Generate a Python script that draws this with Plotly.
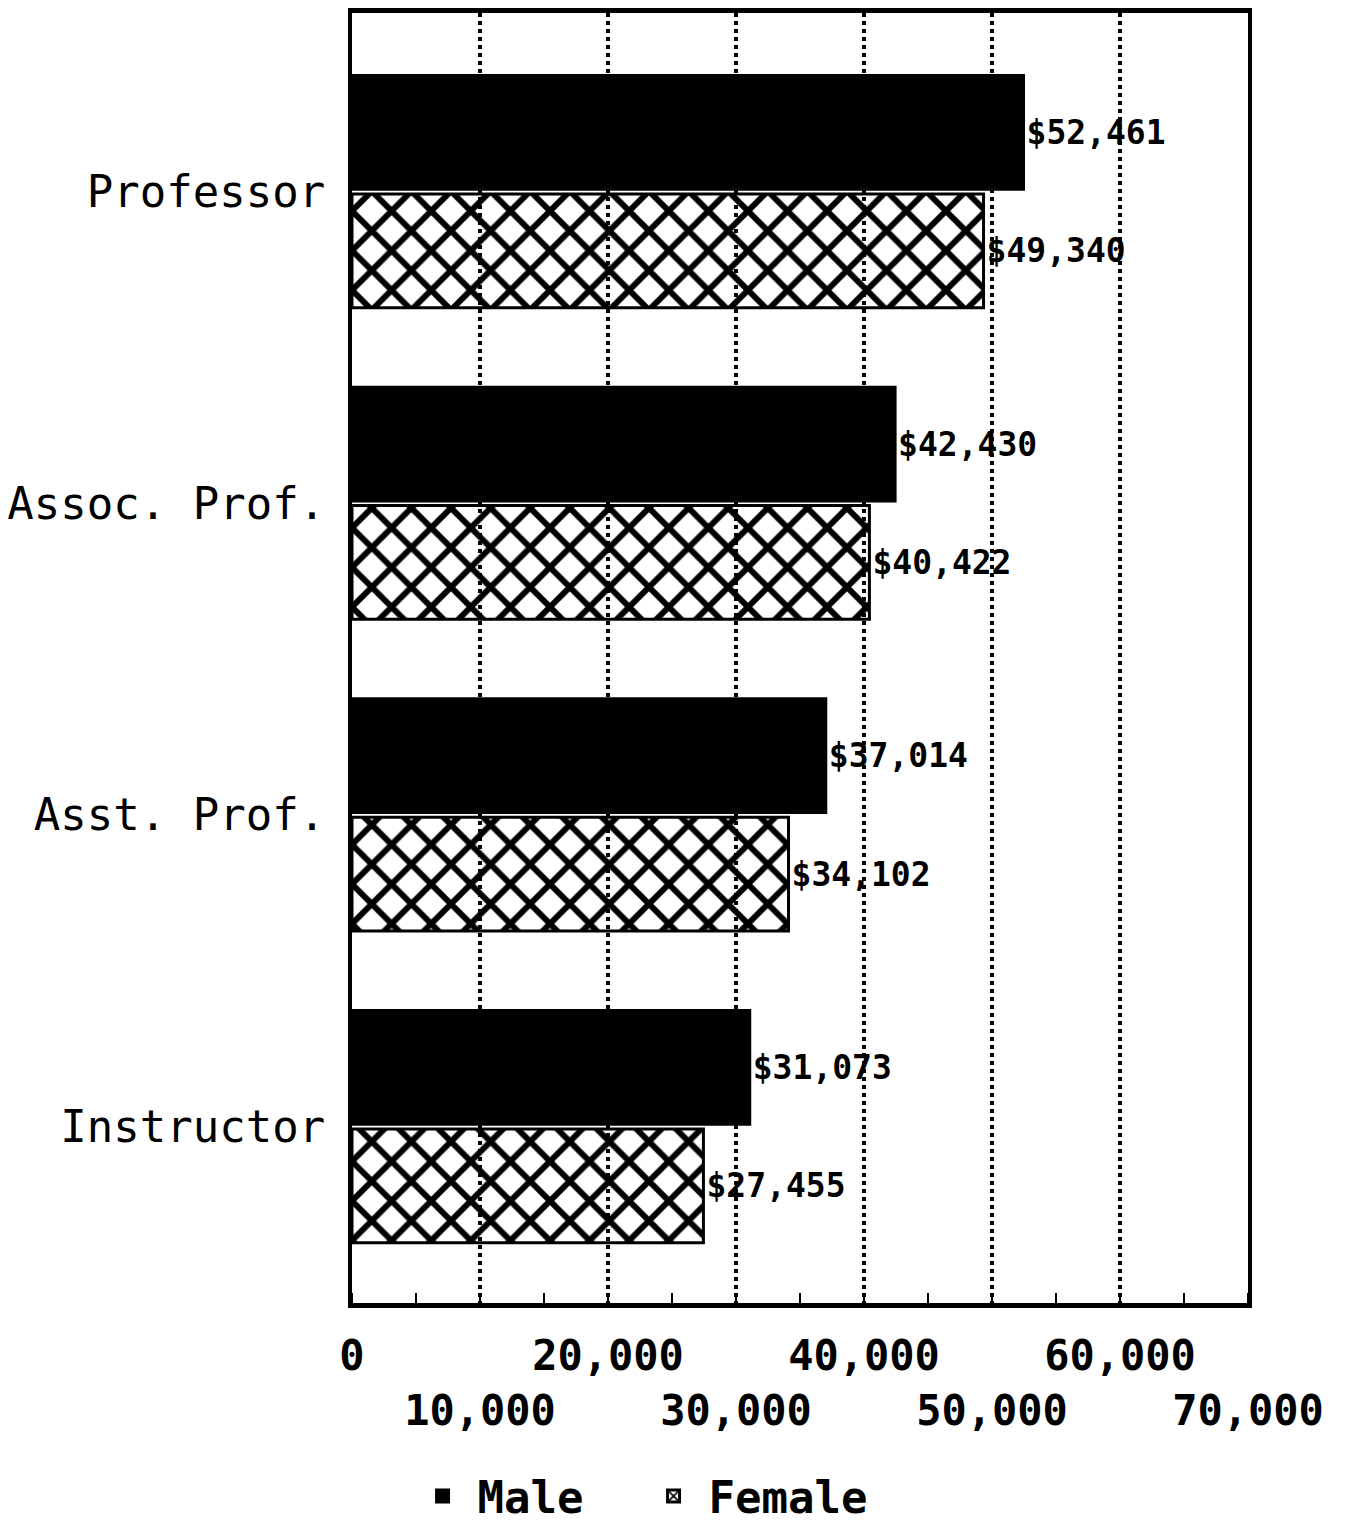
import plotly.graph_objects as go

categories = ["Professor", "Assoc. Prof.", "Asst. Prof.", "Instructor"]
male = [52461, 42430, 37014, 31073]
female = [49340, 40422, 34102, 27455]
tick_vals = [0, 10000, 20000, 30000, 40000, 50000, 60000, 70000]
tick_text = ["0", "<br>10,000", "20,000", "<br>30,000", "40,000", "<br>50,000", "60,000", "<br>70,000"]

MONO = "DejaVu Sans Mono"

fig = go.Figure()
fig.add_trace(go.Bar(
    y=categories, x=male, orientation="h", name="Male",
    marker=dict(color="black", line=dict(color="black", width=3)),
    text=[f"${v:,}" for v in male], textposition="outside",
    textfont=dict(family=MONO, size=33, color="black", weight="bold"),
    cliponaxis=False,
))
fig.add_trace(go.Bar(
    y=categories, x=female, orientation="h", name="Female",
    marker=dict(color="rgba(255,255,255,0)", line=dict(color="black", width=3),
                pattern=dict(shape="x", size=28, solidity=0.38, fgcolor="black", fgopacity=1,
                             bgcolor="rgba(255,255,255,0)", fillmode="overlay")),
    text=[f"${v:,}" for v in female], textposition="outside",
    textfont=dict(family=MONO, size=33, color="black", weight="bold"),
    cliponaxis=False,
))

fig.update_layout(
    width=1350, height=1533,
    margin=dict(l=344, r=110, t=5, b=238, autoexpand=False),
    paper_bgcolor="white", plot_bgcolor="white",
    barmode="group", bargap=0.24, bargroupgap=0.04,
    font=dict(family=MONO, color="black"),
    showlegend=True,
    legend=dict(orientation="h", x=0.062, xanchor="left", y=-0.150, yanchor="middle",
                font=dict(family=MONO, size=44, color="black", weight="bold"),
                traceorder="normal", itemwidth=60, entrywidth=156),
)
fig.update_xaxes(
    range=[0, 70000], tickvals=tick_vals, ticktext=tick_text, tickangle=0,
    tickfont=dict(family=MONO, size=42, color="black", weight="bold"),
    showgrid=True, gridcolor="black", gridwidth=4, griddash="dot",
    showline=True, linecolor="black", linewidth=5, mirror=True,
    ticks="", ticklabelstandoff=12, zeroline=False, automargin=False,
    minor=dict(dtick=5000, tick0=5000, ticks="inside", ticklen=10, tickwidth=2,
               tickcolor="black", showgrid=False),
)
fig.update_yaxes(
    range=[3.566, -0.573], type="category", automargin=False,
    tickfont=dict(family=MONO, size=44, color="black"),
    showgrid=False, showline=True, linecolor="black", linewidth=4, mirror=True,
    ticks="", ticklabelstandoff=14,
)

fig.write_html("out.html")
